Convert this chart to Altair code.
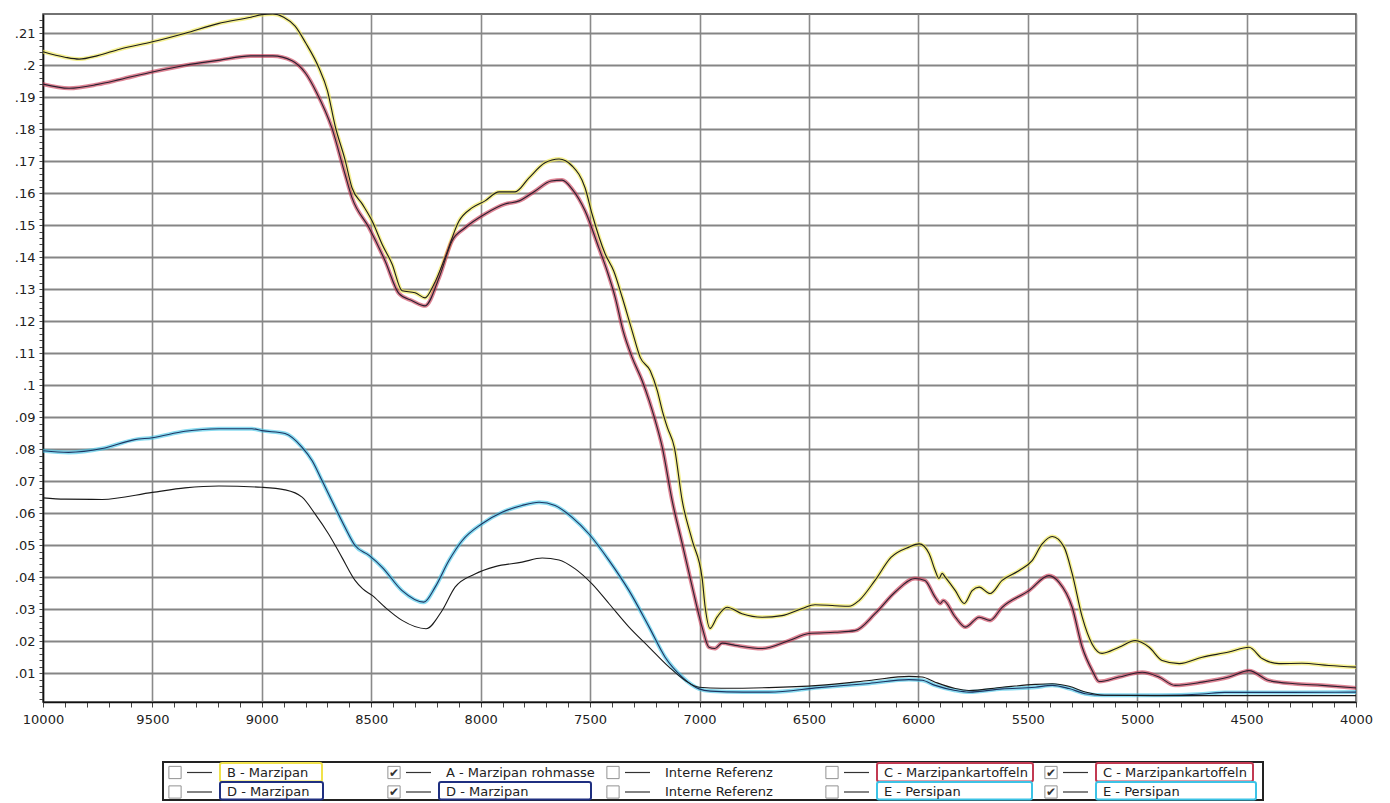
import altair as alt
import pandas as pd

# ---------------- data ----------------
# B - Marzipan (top curve, yellow highlight)
b_x = [10000, 9900, 9835, 9750, 9650, 9500, 9350, 9200, 9050, 9000, 8950, 8900, 8848, 8800, 8740,
       8700, 8665, 8620, 8588, 8540, 8496, 8450, 8405, 8359, 8300, 8254, 8213, 8163, 8099, 8040,
       7980, 7916, 7843, 7779, 7706, 7642, 7582, 7523, 7491, 7431, 7392, 7353, 7308, 7271, 7225,
       7193, 7170, 7147, 7115, 7079, 7033, 6988, 6974, 6952, 6920, 6874, 6806, 6714, 6623, 6531,
       6472, 6381, 6317, 6271, 6198, 6125, 6043, 5996, 5951, 5923, 5906, 5891, 5877, 5831, 5790,
       5754, 5722, 5672, 5617, 5539, 5480, 5434, 5388, 5334, 5297, 5251, 5205, 5160, 5083, 5009,
       4945, 4886, 4808, 4703, 4581, 4489, 4429, 4352, 4247, 4124, 4000]
b_y = [0.2042, 0.2025, 0.2019, 0.2030, 0.2050, 0.2073, 0.2100, 0.2130, 0.2150, 0.2158, 0.2160, 0.2150, 0.2122, 0.2070, 0.1993,
       0.1920, 0.1810, 0.1705, 0.1617, 0.1565, 0.1513, 0.1440, 0.1379, 0.1295, 0.1289, 0.1273, 0.1316, 0.1398, 0.1513, 0.1554,
       0.1576, 0.1604, 0.1604, 0.1648, 0.1695, 0.1707, 0.1685, 0.1617, 0.1535, 0.1410, 0.1357, 0.1274, 0.1170, 0.1087, 0.1045,
       0.0983, 0.0920, 0.0868, 0.0806, 0.0639, 0.0514, 0.0397, 0.0306, 0.0240, 0.0275, 0.0306, 0.0286, 0.0275, 0.0280, 0.0302,
       0.0314, 0.0311, 0.0309, 0.0327, 0.0390, 0.0462, 0.0494, 0.0504, 0.0474, 0.0421, 0.0396, 0.0412, 0.0400, 0.0358, 0.0318,
       0.0358, 0.0369, 0.0349, 0.0390, 0.0421, 0.0452, 0.0504, 0.0527, 0.0494, 0.0411, 0.0275, 0.0190, 0.0162, 0.0181, 0.0202,
       0.0181, 0.0140, 0.0130, 0.0150, 0.0166, 0.0181, 0.0146, 0.0130, 0.0131, 0.0124, 0.0119]

# C - Marzipankartoffeln (second curve, red highlight)
c_x = [10000, 9881, 9750, 9650, 9500, 9350, 9200, 9050, 8950, 8862, 8800, 8750, 8680, 8620, 8588,
       8510, 8437, 8373, 8313, 8254, 8190, 8131, 8071, 7980, 7889, 7824, 7751, 7678, 7628, 7582,
       7523, 7460, 7422, 7385, 7349, 7308, 7262, 7230, 7202, 7170, 7125, 7079, 7033, 6988, 6957,
       6930, 6897, 6837, 6714, 6591, 6500, 6381, 6289, 6198, 6107, 6015, 5970, 5923, 5900, 5886,
       5831, 5785, 5722, 5672, 5617, 5494, 5403, 5357, 5297, 5251, 5205, 5174, 5083, 4977, 4900,
       4827, 4703, 4581, 4489, 4398, 4279, 4155, 4000]
c_y = [0.1941, 0.1928, 0.1940, 0.1955, 0.1979, 0.2000, 0.2015, 0.2029, 0.2029, 0.2014, 0.1975, 0.1915, 0.1804, 0.1660, 0.1586,
       0.1492, 0.1389, 0.1286, 0.1264, 0.1248, 0.1336, 0.1451, 0.1492, 0.1535, 0.1566, 0.1576, 0.1607, 0.1638, 0.1641, 0.1613,
       0.1545, 0.1429, 0.1357, 0.1274, 0.1170, 0.1087, 0.1014, 0.0952, 0.0889, 0.0806, 0.0639, 0.0505, 0.0369, 0.0244, 0.0181,
       0.0177, 0.0194, 0.0187, 0.0177, 0.0202, 0.0224, 0.0228, 0.0233, 0.0286, 0.0353, 0.0396, 0.0390, 0.0337, 0.0318, 0.0327,
       0.0275, 0.0244, 0.0275, 0.0265, 0.0306, 0.0358, 0.0405, 0.0384, 0.0306, 0.0181, 0.0108, 0.0074, 0.0088, 0.0103, 0.0088,
       0.0062, 0.0072, 0.0088, 0.0108, 0.0077, 0.0067, 0.0062, 0.0054]

# E - Persipan / D - Marzipan (cyan highlight, navy line)
e_x = [10000, 9883, 9730, 9580, 9500, 9351, 9196, 9045, 9000, 8894, 8816, 8770, 8725, 8665, 8620,
       8574, 8510, 8450, 8359, 8260, 8208, 8145, 8085, 7994, 7902, 7811, 7733, 7660, 7582, 7505,
       7413, 7322, 7230, 7157, 7079, 7002, 6950, 6800, 6683, 6454, 6225, 6043, 5983, 5923, 5831,
       5769, 5617, 5466, 5388, 5311, 5237, 5150, 4900, 4700, 4600, 4300, 4000]
e_y = [0.0795, 0.0790, 0.0802, 0.0830, 0.0836, 0.0856, 0.0864, 0.0864, 0.0858, 0.0849, 0.0806, 0.0764, 0.0702, 0.0618, 0.0556,
       0.0499, 0.0468, 0.0431, 0.0358, 0.0322, 0.0369, 0.0452, 0.0514, 0.0567, 0.0603, 0.0624, 0.0634, 0.0624, 0.0587, 0.0535,
       0.0452, 0.0358, 0.0244, 0.0150, 0.0088, 0.0051, 0.0044, 0.0041, 0.0041, 0.0055, 0.0068, 0.0080, 0.0078, 0.0062, 0.0046,
       0.0041, 0.0051, 0.0056, 0.0062, 0.0052, 0.0036, 0.0031, 0.0031, 0.0035, 0.0040, 0.0040, 0.0041]

# A - Marzipan rohmasse (lower black curve)
a_x = [10000, 9900, 9730, 9500, 9351, 9196, 9000, 8894, 8816, 8757, 8695, 8634, 8574, 8540, 8496,
       8437, 8359, 8250, 8176, 8117, 8026, 7934, 7811, 7719, 7642, 7568, 7491, 7413, 7322, 7230,
       7139, 7065, 7002, 6900, 6683, 6454, 6225, 6043, 5983, 5923, 5831, 5769, 5617, 5466, 5388,
       5311, 5237, 5150, 4900, 4600, 4300, 4000]
a_y = [0.0648, 0.0644, 0.0643, 0.0665, 0.0679, 0.0685, 0.0681, 0.0673, 0.0650, 0.0598, 0.0535, 0.0462, 0.0390, 0.0364, 0.0343,
       0.0306, 0.0265, 0.0239, 0.0296, 0.0369, 0.0410, 0.0433, 0.0447, 0.0460, 0.0454, 0.0426, 0.0379, 0.0317, 0.0244, 0.0181,
       0.0119, 0.0077, 0.0056, 0.0053, 0.0055, 0.0062, 0.0077, 0.0090, 0.0088, 0.0072, 0.0052, 0.0046, 0.0056, 0.0065, 0.0067,
       0.0059, 0.0041, 0.0031, 0.0030, 0.0030, 0.0030, 0.0030]

series_keys = ["B", "C", "E", "A"]
series_x = [b_x, c_x, e_x, a_x]
series_y = [b_y, c_y, e_y, a_y]

x_ticks = list(range(4000, 10001, 100))
y_ticks = [round(0.002 * i, 3) for i in range(1, 108)]

# legend entries
leg_row = [0, 0, 0, 0, 0, 1, 1, 1, 1, 1]
leg_col = [0, 1, 2, 3, 4, 0, 1, 2, 3, 4]
leg_label = ["B - Marzipan", "A - Marzipan rohmasse", "Interne Referenz", "C - Marzipankartoffeln",
             "C - Marzipankartoffeln", "D - Marzipan", "D - Marzipan", "Interne Referenz",
             "E - Persipan", "E - Persipan"]
leg_checked = [0, 1, 0, 0, 1, 0, 1, 0, 0, 1]
leg_mark = ["yellow", "", "", "red", "red", "navy", "navy", "", "cyan", "cyan"]

# ---------------- styles ----------------
FONT = "DejaVu Sans"
W, H = 1313, 688
box_w = [102, 0, 0, 156, 157, 103, 152, 0, 155, 160]

df = pd.concat([pd.DataFrame({"key": k, "wn": xs, "ab": ys})
                for k, xs, ys in zip(series_keys, series_x, series_y)], ignore_index=True)

x_enc = alt.X("wn:Q",
              scale=alt.Scale(domain=[4000, 10000], reverse=True, nice=False, zero=False),
              axis=alt.Axis(values=x_ticks, title=None,
                            labelExpr="datum.value % 500 == 0 ? format(datum.value, 'd') : ''",
                            labelOverlap=False, labelFlush=False, labelFont=FONT, labelFontSize=13,
                            labelColor="#222", labelPadding=6, tickSize=5, tickColor="#444",
                            domainColor="#111", domainWidth=1.5,
                            grid=True, gridColor="#8a8a8a", gridWidth=1.6,
                            gridOpacity={"condition": {"test": "datum.value % 500 == 0", "value": 1},
                                         "value": 0}))
y_enc = alt.Y("ab:Q",
              scale=alt.Scale(domain=[0.001, 0.216], nice=False, zero=False),
              axis=alt.Axis(values=y_ticks, title=None,
                            labelExpr="round(datum.value*1000) % 10 == 0 ? substring(format(datum.value, '.2~f'), 1) : ''",
                            labelOverlap=False, labelFlush=False, labelFont=FONT, labelFontSize=13,
                            labelColor="#222", labelPadding=4, tickSize=4, tickColor="#444",
                            domainColor="#111", domainWidth=1.5,
                            grid=True, gridColor="#858585", gridWidth=1.9,
                            gridOpacity={"condition": {"test": "round(datum.value*1000) % 10 == 0", "value": 1},
                                         "value": 0}))

base = alt.Chart(df)
hl = base.transform_filter("datum.key != 'A'").mark_line(
    strokeWidth=4, opacity=0.6, clip=True, strokeCap="round", strokeJoin="round",
    interpolate="monotone").encode(
    x=x_enc, y=y_enc,
    color=alt.Color("key:N", scale=alt.Scale(domain=["B", "C", "E"],
                                             range=["#efe64a", "#c8334f", "#3cc3e6"]), legend=None),
    detail="key:N")
thin = base.mark_line(strokeWidth=1.1, clip=True, interpolate="monotone").encode(
    x=x_enc, y=y_enc,
    color=alt.Color("key:N", scale=alt.Scale(domain=["B", "C", "E", "A"],
                                             range=["#1c1c1c", "#2b2030", "#1d3563", "#1a1a1a"]),
                    legend=None),
    detail="key:N")
main = alt.layer(hl, thin).resolve_scale(color="independent").properties(width=W, height=H)

# ---------------- legend ----------------
LW, LH = 1100, 38
ldf = pd.DataFrame({"row": leg_row, "col": leg_col, "label": leg_label,
                    "checked": leg_checked, "mark": leg_mark, "bw": box_w})
lbase = alt.Chart(ldf).transform_calculate(
    cb="12 + 219 * datum.col",
    l1="12 + 219 * datum.col + 12",
    l2="12 + 219 * datum.col + 37",
    tx="12 + 219 * datum.col + 52",
    ry="10.5 + 19.5 * datum.row",
    bx="12 + 219 * datum.col + 45",
    bx2="12 + 219 * datum.col + 45 + datum.bw",
    by="1 + 19 * datum.row",
    by2="19.5 + 18 * datum.row",
)
lx = alt.Scale(domain=[0, LW], nice=False, zero=False)
ly = alt.Scale(domain=[0, LH], nice=False, zero=False, reverse=True)

boxes = lbase.transform_filter("datum.mark != ''").mark_rect(
    fillOpacity=0, strokeWidth=2, cornerRadius=2).encode(
    x=alt.X("bx:Q", scale=lx, axis=None), x2="bx2:Q",
    y=alt.Y("by:Q", scale=ly, axis=None), y2="by2:Q",
    stroke=alt.Color("mark:N", scale=alt.Scale(domain=["yellow", "red", "navy", "cyan"],
                                               range=["#f0e24a", "#c23a52", "#1f2f80", "#3cc3e6"]),
                     legend=None))
cbox = lbase.mark_square(size=150, filled=True, fill="white", stroke="#666", strokeWidth=1).encode(
    x=alt.X("cb:Q", scale=lx, axis=None), y=alt.Y("ry:Q", scale=ly, axis=None))
checks = lbase.transform_filter("datum.checked == 1").mark_text(
    text="✔", fontSize=12, color="#333", font=FONT).encode(
    x=alt.X("cb:Q", scale=lx, axis=None), y=alt.Y("ry:Q", scale=ly, axis=None))
lines = lbase.mark_rule(color="#333", strokeWidth=1.2).encode(
    x=alt.X("l1:Q", scale=lx, axis=None), x2="l2:Q", y=alt.Y("ry:Q", scale=ly, axis=None))
labels = lbase.mark_text(align="left", baseline="middle", fontSize=13, font=FONT, color="#222").encode(
    x=alt.X("tx:Q", scale=lx, axis=None), y=alt.Y("ry:Q", scale=ly, axis=None), text="label:N")
legend = alt.layer(boxes, cbox, checks, lines, labels).resolve_scale(stroke="independent").properties(
    width=LW, height=LH, view=alt.ViewBackground(stroke="#222", strokeWidth=2))

spacer = alt.Chart(pd.DataFrame({"v": [0]})).mark_point(opacity=0).encode(
    x=alt.X("v:Q", axis=None), y=alt.Y("v:Q", axis=None)).properties(
    width=118, height=LH, view=alt.ViewBackground(stroke="transparent"))

chart = alt.vconcat(main, alt.hconcat(spacer, legend, spacing=0), spacing=34).properties(
    padding={"left": 5, "top": 5, "right": 5, "bottom": 0}, background="white"
).configure_view(stroke="#444", strokeWidth=1.5)

chart.save("out.html", embed_options={"renderer": "svg", "actions": False})
